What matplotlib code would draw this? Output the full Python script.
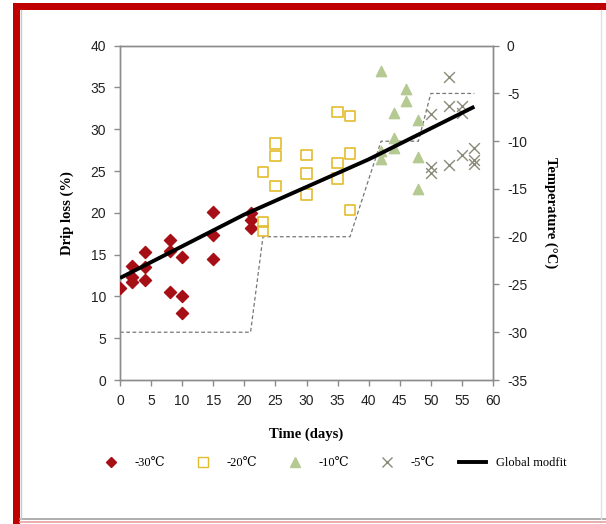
import matplotlib
matplotlib.use("Agg")
import matplotlib.pyplot as plt
from matplotlib.lines import Line2D
from matplotlib.patches import Rectangle

plt.rcParams["axes.unicode_minus"] = False

# ---- data ----
d30_days = [0, 2, 2, 2, 4, 4, 4, 8, 8, 8, 10, 10, 10, 15, 15, 15, 21, 21, 21]
d30_loss = [11.0, 13.7, 12.3, 11.7, 15.3, 13.5, 12.0, 16.7, 15.4, 10.5, 14.7, 10.1, 8.0, 20.1, 17.4, 14.5, 20.0, 19.1, 18.2]

d20_days = [23, 23, 23, 25, 25, 25, 30, 30, 30, 35, 35, 35, 37, 37, 37]
d20_loss = [24.9, 18.9, 17.8, 28.3, 26.8, 23.2, 26.9, 24.7, 22.2, 32.1, 26.0, 24.1, 31.6, 27.1, 20.3]

d10_days = [42, 42, 42, 44, 44, 44, 46, 46, 48, 48, 48]
d10_loss = [37.0, 27.4, 26.5, 32.0, 29.0, 27.7, 34.8, 33.4, 31.1, 26.7, 22.8]

d5_days = [50, 50, 50, 53, 53, 53, 55, 55, 55, 57, 57, 57]
d5_loss = [31.8, 25.5, 24.8, 36.2, 32.8, 25.7, 32.8, 32.0, 26.9, 27.8, 26.3, 25.9]

fit_days = [0, 20, 40, 57]
fit_loss = [12.2, 19.8, 26.4, 32.7]

temp_days = [0, 21, 23, 37, 42, 48, 50, 57]
temp_vals = [-30, -30, -20, -20, -10, -10, -5, -5]

legend_labels = ["-30\u2103", "-20\u2103", "-10\u2103", "-5\u2103", "Global modfit"]
xlabel = "Time (days)"
ylabel_left = "Drip loss (%)"
ylabel_right = "Temperature (\u00b0C)"

# ---- figure ----
fig = plt.figure(figsize=(6.06, 5.24), dpi=100)
W, H = 606, 524

# frame decorations (red border left/top, thin lines)
fig.patches.append(Rectangle((13 / W, 0), 7 / W, 1 - 3 / H, transform=fig.transFigure,
                             facecolor="#C00000", edgecolor="none", zorder=0))
fig.patches.append(Rectangle((13 / W, 1 - 10 / H), 1 - 13 / W, 7 / H, transform=fig.transFigure,
                             facecolor="#C00000", edgecolor="none", zorder=0))
fig.add_artist(Line2D([20 / W, 1], [1 - 519 / H] * 2, transform=fig.transFigure, color="#A0A0A0", lw=1.2))
fig.add_artist(Line2D([20 / W, 1], [1 - 521.5 / H] * 2, transform=fig.transFigure, color="#E8A0A0", lw=1.2))
fig.add_artist(Line2D([601 / W] * 2, [1 - 519 / H, 1 - 10 / H], transform=fig.transFigure, color="#E0E0E0", lw=1.0))
fig.add_artist(Line2D([21 / W] * 2, [1 - 519 / H, 1 - 10 / H], transform=fig.transFigure, color="#C8C8C8", lw=1.0))

ax = fig.add_axes([120 / W, 1 - 380 / H, (493 - 120) / W, (380 - 45.7) / H])
ax2 = ax.twinx()

ax.scatter(d30_days, d30_loss, marker="D", s=38, color="#A50F15", zorder=4)
ax.scatter(d20_days, d20_loss, marker="s", s=55, facecolor="none", edgecolor="#E3BC2E", linewidth=1.2, zorder=4)
ax.scatter(d10_days, d10_loss, marker="^", s=55, color="#B5C992", zorder=4)
ax.scatter(d5_days, d5_loss, marker="x", s=60, color="#8A8A78", linewidth=1.0, zorder=4)
ax.plot(fit_days, fit_loss, color="black", lw=2.8, zorder=5, solid_capstyle="butt")

ax2.plot(temp_days, temp_vals, color="#777777", lw=0.9, ls=(0, (3, 2)), zorder=2)
ax.set_zorder(ax2.get_zorder() + 1)
ax.patch.set_visible(False)

ax.set_xlim(0, 60)
ax.set_ylim(0, 40)
ax2.set_ylim(-35, 0)
ax.set_xticks(range(0, 61, 5))
ax.set_yticks(range(0, 41, 5))
ax2.set_yticks(range(-35, 1, 5))

for a in (ax, ax2):
    for sp in a.spines.values():
        sp.set_color("#8C8C8C")
        sp.set_linewidth(1.0)
    a.tick_params(direction="out", length=4, width=1, color="#8C8C8C", labelcolor="#222222", pad=6)
for lbl in ax.get_xticklabels() + ax.get_yticklabels() + ax2.get_yticklabels():
    lbl.set_fontfamily("Liberation Sans")
    lbl.set_fontsize(10)

labfont = dict(family="Liberation Serif", size=10.5, weight="bold")
ax.set_xlabel(xlabel, labelpad=14, **labfont)
ax.set_ylabel(ylabel_left, labelpad=12, **labfont)
ax2.set_ylabel(ylabel_right, rotation=-90, labelpad=22, **labfont)

handles = [
    Line2D([], [], marker="D", ls="none", color="#A50F15", markersize=5),
    Line2D([], [], marker="s", ls="none", markerfacecolor="none", markeredgecolor="#E3BC2E", markersize=7),
    Line2D([], [], marker="^", ls="none", color="#B5C992", markersize=7),
    Line2D([], [], marker="x", ls="none", color="#8A8A78", markersize=7),
    Line2D([], [], color="black", lw=2.8),
]
fig.legend(handles, legend_labels, loc="center", bbox_to_anchor=(332 / W, 1 - 463 / H),
           ncol=5, frameon=False,
           prop=dict(family=["Liberation Serif", "DejaVu Serif", "Noto Sans CJK SC"], size=9),
           handlelength=2.2, handletextpad=0.8, columnspacing=1.9)

fig.savefig("out.png", dpi=100, facecolor="white")
